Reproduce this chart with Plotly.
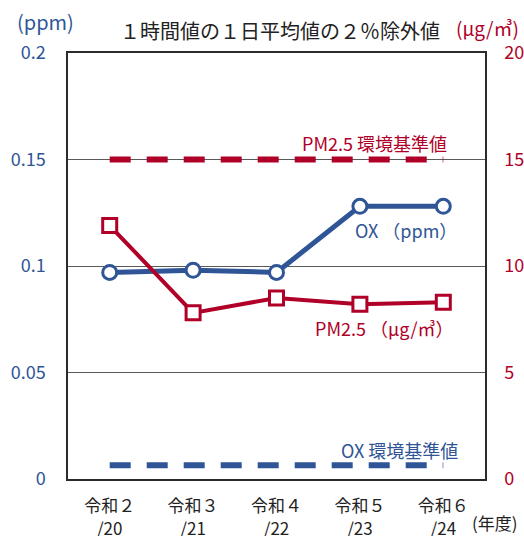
import plotly.graph_objects as go

# data
years = ["令和２<br>/20", "令和３<br>/21", "令和４<br>/22", "令和５<br>/23", "令和６<br>/24"]
ox_ppm = [0.097, 0.098, 0.097, 0.128, 0.128]
pm25_ugm3 = [11.9, 7.8, 8.5, 8.2, 8.3]
pm25_standard = [15, 15, 15, 15, 15]
ox_standard = [0.0065, 0.0065, 0.0065, 0.0065, 0.0065]
left_ticks = [0, 0.05, 0.1, 0.15, 0.2]
left_ticktext = ["0", "0.05", "0.1", "0.15", "0.2"]
right_ticks = [0, 5, 10, 15, 20]

BLUE = "#2F5597"
RED = "#B00028"
FONT = "Noto Sans CJK JP"

fig = go.Figure()

fig.add_trace(go.Scatter(
    x=years, y=ox_standard, mode="lines", hoverinfo="skip",
    line=dict(color=BLUE, width=6, dash="21px,16px"),
))
fig.add_trace(go.Scatter(
    x=years, y=pm25_standard, yaxis="y2", mode="lines", hoverinfo="skip",
    line=dict(color=RED, width=6, dash="21px,16px"),
))
fig.add_trace(go.Scatter(
    x=years, y=pm25_ugm3, yaxis="y2", mode="lines+markers",
    line=dict(color=RED, width=4),
    marker=dict(symbol="square", size=14, color="white",
                line=dict(color=RED, width=3)),
))
fig.add_trace(go.Scatter(
    x=years, y=ox_ppm, mode="lines+markers",
    line=dict(color=BLUE, width=5),
    marker=dict(symbol="circle", size=14, color="white",
                line=dict(color=BLUE, width=3)),
))

fig.update_layout(
    width=524, height=536,
    margin=dict(l=68, r=39, t=53, b=57, autoexpand=False),
    paper_bgcolor="white", plot_bgcolor="white",
    showlegend=False,
    font=dict(family=FONT, size=16, color="#222222"),
    xaxis=dict(
        type="category", range=[-0.5, 4.5], automargin=False,
        showgrid=False, ticks="", mirror=True,
        showline=True, linecolor="#2b2b2b", linewidth=2,
        tickfont=dict(size=17, color="#222222"), ticklabelstandoff=11,
    ),
    yaxis=dict(
        range=[0, 0.2], tickvals=left_ticks, ticktext=left_ticktext,
        automargin=False,
        showgrid=True, gridcolor="#595959", gridwidth=1,
        zeroline=False, showline=True, linecolor="#2b2b2b", linewidth=1.5,
        tickfont=dict(size=18, color=BLUE), ticklabelstandoff=17,
    ),
    yaxis2=dict(
        range=[0, 20], tickvals=right_ticks, overlaying="y", side="right",
        automargin=False,
        showgrid=False, zeroline=False, showline=True,
        linecolor="#2b2b2b", linewidth=1.5,
        tickfont=dict(size=18, color=RED), ticklabelstandoff=14,
    ),
)

ann = [
    dict(text="１時間値の１日平均値の２％除外値", x=280, y=30, color="#222222", size=20, anchor="center"),
    dict(text="(ppm)", x=15, y=22, color=BLUE, size=20, anchor="left"),
    dict(text="(μg/㎥)", x=521, y=27, color=RED, size=19, anchor="right"),
    dict(text="PM2.5 環境基準値", x=374, y=143, color=RED, size=18, anchor="center"),
    dict(text="OX （ppm）", x=459, y=230, color=BLUE, size=18, anchor="right"),
    dict(text="PM2.5 （μg/㎥）", x=456, y=328, color=RED, size=18, anchor="right"),
    dict(text="OX 環境基準値", x=460, y=450, color=BLUE, size=18, anchor="right"),
    dict(text="(年度)", x=520, y=522, color="#222222", size=17, anchor="right"),
]
for a in ann:
    fig.add_annotation(
        text=a["text"], xref="paper", yref="paper",
        x=(a["x"] - 68) / 417, y=(479 - a["y"]) / 426,
        xanchor=a["anchor"], yanchor="middle", showarrow=False,
        font=dict(family=FONT, size=a["size"], color=a["color"]),
    )

# drop the default 8px page margin so the figure fills the window
fig.write_html("out.html",
               config={"displayModeBar": False},
               post_script="document.body.style.margin='0';"
                           "document.body.style.overflow='hidden';")
